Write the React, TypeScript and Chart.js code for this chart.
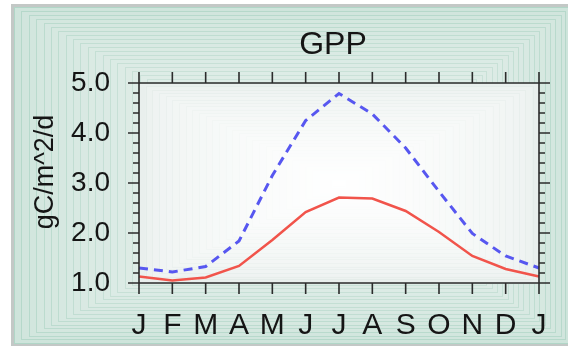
import React, { useEffect, useRef } from 'react';
import { Chart, registerables } from 'chart.js';

Chart.register(...registerables);

const months = ['J', 'F', 'M', 'A', 'M', 'J', 'J', 'A', 'S', 'O', 'N', 'D', 'J'];
const seriesRed = [1.13, 1.05, 1.11, 1.34, 1.86, 2.42, 2.71, 2.69, 2.44, 2.02, 1.54, 1.28, 1.13];
const seriesBlue = [1.3, 1.22, 1.33, 1.84, 3.15, 4.25, 4.79, 4.38, 3.7, 2.83, 1.99, 1.54, 1.3];
const yMajorTicks = [1, 2, 3, 4, 5];
const yMinorStep = 0.2;
const titleText = 'GPP';
const yTitleText = 'gC/m^2/d';

const FONT = '"Liberation Sans", Arial, Helvetica, sans-serif';
const TEXT = '#151515';

type RGB = [number, number, number];
const lerp = (a: number, b: number, t: number) => a + (b - a) * t;
const mix = (a: RGB, b: RGB, t: number) =>
  `rgb(${Math.round(lerp(a[0], b[0], t))},${Math.round(lerp(a[1], b[1], t))},${Math.round(lerp(a[2], b[2], t))})`;

const framePlugin = {
  id: 'frameBg',
  beforeDraw(chart: any) {
    const { ctx, width, height, chartArea: ca } = chart;
    ctx.save();
    ctx.fillStyle = '#ffffff';
    ctx.fillRect(0, 0, width, height);
    // outer grey border
    const ox0 = 11, oy0 = 4, ox1 = width + 6, oy1 = height - 5;
    ctx.fillStyle = '#c3c8c6';
    ctx.fillRect(ox0, oy0, ox1 - ox0, oy1 - oy0);
    const ix0 = ox0 + 3, iy0 = oy0 + 3, ix1 = ox1 - 3, iy1 = oy1 - 3;
    const cx = (ca.left + ca.right) / 2, cy = (ca.top + ca.bottom) / 2;
    const outer: RGB = [206, 228, 219];
    const inner: RGB = [234, 242, 239];
    const lineOuter: RGB = [176, 214, 199];
    const lineInner: RGB = [222, 234, 229];
    const N = 44;
    ctx.lineWidth = 1;
    for (let i = 0; i < N; i++) {
      const t = i / N;
      const x0 = lerp(ix0, cx, t), y0 = lerp(iy0, cy, t);
      const x1 = lerp(ix1, cx, t), y1 = lerp(iy1, cy, t);
      const tt = Math.pow(t, 0.6);
      ctx.fillStyle = mix(outer, inner, tt);
      ctx.fillRect(x0, y0, x1 - x0, y1 - y0);
      ctx.strokeStyle = mix(lineOuter, lineInner, tt);
      ctx.strokeRect(Math.round(x0) + 0.5, Math.round(y0) + 0.5, Math.round(x1 - x0), Math.round(y1 - y0));
    }
    // plot area gradient
    const pOuter: RGB = [233, 239, 237];
    const pInner: RGB = [255, 255, 255];
    const pLine: RGB = [222, 232, 228];
    const M = 30;
    for (let i = 0; i < M; i++) {
      const t = i / M;
      const x0 = lerp(ca.left, cx, t), y0 = lerp(ca.top, cy, t);
      const x1 = lerp(ca.right, cx, t), y1 = lerp(ca.bottom, cy, t);
      const tt = Math.pow(t, 0.5);
      ctx.fillStyle = mix(pOuter, pInner, tt);
      ctx.fillRect(x0, y0, x1 - x0, y1 - y0);
      ctx.strokeStyle = mix(pLine, pInner, tt);
      ctx.strokeRect(Math.round(x0) + 0.5, Math.round(y0) + 0.5, Math.round(x1 - x0), Math.round(y1 - y0));
    }
    ctx.restore();
  },
  afterDraw(chart: any) {
    const { ctx, chartArea: ca, scales } = chart;
    const xs = scales.x, ys = scales.y;
    const L = ca.left, R = ca.right, T = ca.top, B = ca.bottom;
    const ext = 11, minor = 6;
    ctx.save();
    ctx.strokeStyle = '#2b2b2b';
    ctx.lineWidth = 1.6;
    ctx.beginPath();
    ctx.moveTo(L - ext, T); ctx.lineTo(R + ext, T);
    ctx.moveTo(L - ext, B); ctx.lineTo(R + ext, B);
    ctx.moveTo(L, T - ext); ctx.lineTo(L, B + ext);
    ctx.moveTo(R, T - ext); ctx.lineTo(R, B + ext);
    months.forEach((_, i) => {
      const px = xs.getPixelForValue(i);
      ctx.moveTo(px, T - ext); ctx.lineTo(px, T);
      ctx.moveTo(px, B); ctx.lineTo(px, B + ext);
    });
    yMajorTicks.forEach((v) => {
      const py = ys.getPixelForValue(v);
      ctx.moveTo(L - ext, py); ctx.lineTo(L, py);
      ctx.moveTo(R, py); ctx.lineTo(R + ext, py);
    });
    ctx.stroke();
    ctx.lineWidth = 1.3;
    ctx.beginPath();
    const lo = ys.min, hi = ys.max;
    const n = Math.round((hi - lo) / yMinorStep);
    for (let k = 0; k <= n; k++) {
      const v = lo + k * yMinorStep;
      if (Math.abs(v - Math.round(v)) < 1e-6) continue;
      const py = ys.getPixelForValue(v);
      ctx.moveTo(L - minor, py); ctx.lineTo(L, py);
      ctx.moveTo(R, py); ctx.lineTo(R + minor, py);
    }
    ctx.stroke();

    // chart title
    ctx.fillStyle = TEXT;
    ctx.textAlign = 'center';
    ctx.textBaseline = 'middle';
    ctx.font = `32px ${FONT}`;
    ctx.fillText(titleText, (L + R) / 2 - 6, T - 38);

    // y-axis title
    ctx.save();
    ctx.translate(46, (T + B) / 2 - 11);
    ctx.rotate(-Math.PI / 2);
    ctx.font = `27px ${FONT}`;
    ctx.fillText(yTitleText, 0, 0);
    ctx.restore();
    ctx.restore();
  },
};

export default function App() {
  const ref = useRef<HTMLCanvasElement | null>(null);
  useEffect(() => {
    if (!ref.current) return;
    const chart = new Chart(ref.current, {
      type: 'line',
      data: {
        labels: months,
        datasets: [
          {
            label: 'blue',
            data: seriesBlue,
            borderColor: '#5757f0',
            borderWidth: 3,
            borderDash: [9, 6],
            pointRadius: 0,
            tension: 0,
            fill: false,
          },
          {
            label: 'red',
            data: seriesRed,
            borderColor: '#f1544b',
            borderWidth: 2.5,
            pointRadius: 0,
            tension: 0,
            fill: false,
          },
        ],
      },
      options: {
        responsive: false,
        animation: false,
        devicePixelRatio: 1,
        layout: { padding: { left: 0, right: 29, top: 83, bottom: 0 } },
        plugins: {
          legend: { display: false },
          tooltip: { enabled: false },
          title: { display: false },
        },
        scales: {
          x: {
            type: 'category',
            offset: false,
            grid: { display: false },
            border: { display: false },
            ticks: {
              color: TEXT,
              font: { family: FONT, size: 30 },
              padding: 17,
              maxRotation: 0,
              autoSkip: false,
            },
            afterFit: (s: any) => {
              s.height = 68;
            },
          },
          y: {
            min: 1,
            max: 5,
            grid: { display: false },
            border: { display: false },
            ticks: {
              stepSize: 1,
              color: TEXT,
              font: { family: FONT, size: 28 },
              padding: 21,
              callback: (v: any) => Number(v).toFixed(1),
            },
            afterFit: (s: any) => {
              s.width = 139;
            },
          },
        },
      },
      plugins: [framePlugin],
    });
    return () => chart.destroy();
  }, []);
  return (
    <div style={{ position: 'absolute', left: 0, top: 0, width: 568, height: 351 }}>
      <canvas ref={ref} width={568} height={351} style={{ display: 'block' }} />
    </div>
  );
}
